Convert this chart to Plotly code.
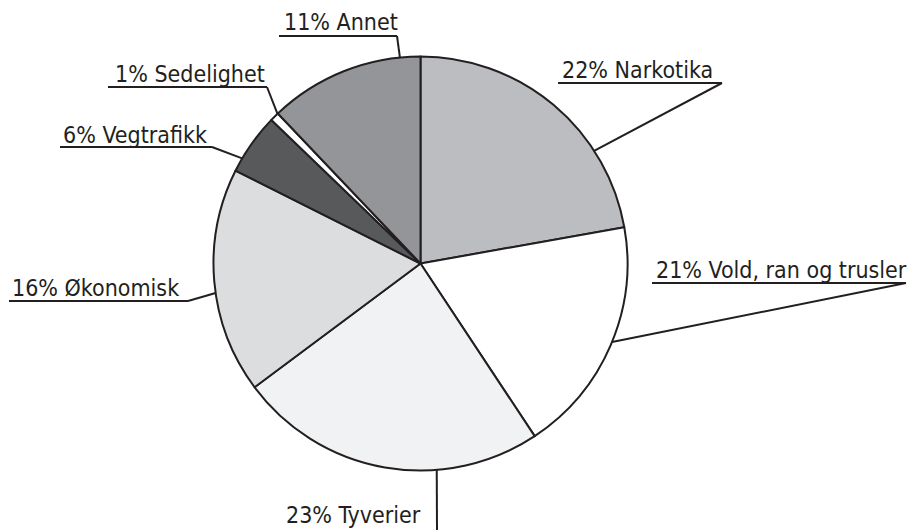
import math
import plotly.graph_objects as go

# ---- data ----
categories = ["Narkotika", "Vold, ran og trusler", "Tyverier", "Økonomisk",
              "Vegtrafikk", "Sedelighet", "Annet"]
pct_labels = [22, 21, 23, 16, 6, 1, 11]              # printed percentages
shares = [22.2, 18.5, 24.1, 17.6, 4.8, 0.7, 12.1]    # slice sizes as drawn

# ---- style ----
colors = ["#bcbdc0", "#ffffff", "#f1f2f3", "#dcdddf", "#58595b", "#ffffff", "#939598"]
INK = "#231f20"
W, H = 907, 530
CX, CY, R = 420.5, 263.5, 207.0
FONT = "Liberation Sans Narrow, DejaVu Sans Condensed, Roboto, sans-serif"
FS = 23

# label layout (pixels): text x, baseline y, underline x0/x1/y,
# elbow point, anchor angle on circle (deg, clockwise from 12 o'clock)
label_layout = {
    "Narkotika":            dict(tx=561, by=78, ux0=558, ux1=722, uy=83, ex=722, ey=83, ang=57.0, anchor="left"),
    "Vold, ran og trusler": dict(tx=655, by=278, ux0=652, ux1=906, uy=283, ex=906, ey=283, ang=112.3, anchor="left"),
    "Tyverier":             dict(tx=422, by=523, ux0=None, ux1=None, uy=None, ex=437, ey=530, ang=175.5, anchor="right"),
    "Økonomisk":            dict(tx=11, by=296, ux0=9, ux1=188, uy=301, ex=188, ey=301, ang=261.8, anchor="left"),
    "Vegtrafikk":           dict(tx=62, by=143, ux0=60, ux1=212, uy=147, ex=212, ey=147, ang=300.5, anchor="left"),
    "Sedelighet":           dict(tx=114, by=82, ux0=108, ux1=267, uy=87, ex=267, ey=87, ang=316.3, anchor="left"),
    "Annet":                dict(tx=283, by=30, ux0=279, ux1=397, uy=36, ex=397, ey=36, ang=354.3, anchor="left"),
}

def px(x):
    return x / W

def py(y):
    return 1 - y / H

fig = go.Figure()
fig.add_trace(go.Pie(
    labels=categories,
    values=shares,
    sort=False,
    direction="clockwise",
    rotation=0,
    marker=dict(colors=colors, line=dict(color=INK, width=2)),
    textinfo="none",
    hoverinfo="label+percent",
    showlegend=False,
    domain=dict(x=[px(CX - R), px(CX + R)], y=[py(CY + R), py(CY - R)]),
))

shapes = []
annotations = []
for cat, pct in zip(categories, pct_labels):
    L = label_layout[cat]
    a = math.radians(L["ang"])
    axp = CX + R * math.sin(a)
    ayp = CY - R * math.cos(a)
    if L["ux0"] is not None:
        shapes.append(dict(type="line", xref="paper", yref="paper",
                           x0=px(L["ux0"]), y0=py(L["uy"]), x1=px(L["ux1"]), y1=py(L["uy"]),
                           line=dict(color=INK, width=2.2)))
    shapes.append(dict(type="line", xref="paper", yref="paper",
                       x0=px(L["ex"]), y0=py(L["ey"]), x1=px(axp), y1=py(ayp),
                       line=dict(color=INK, width=2)))
    annotations.append(dict(
        text=f"{pct}% {cat}", xref="paper", yref="paper",
        x=px(L["tx"]), y=py(L["by"] + 6), xanchor=L["anchor"], yanchor="bottom",
        showarrow=False, font=dict(family=FONT, size=FS, color=INK),
        borderpad=0,
    ))

fig.update_layout(
    width=W, height=H,
    margin=dict(l=0, r=0, t=0, b=0),
    paper_bgcolor="white", plot_bgcolor="white",
    shapes=shapes, annotations=annotations,
)

fig.write_html("out.html",
               config={"displayModeBar": False},
               post_script="document.body.style.margin='0px';document.body.style.overflow='hidden';")
